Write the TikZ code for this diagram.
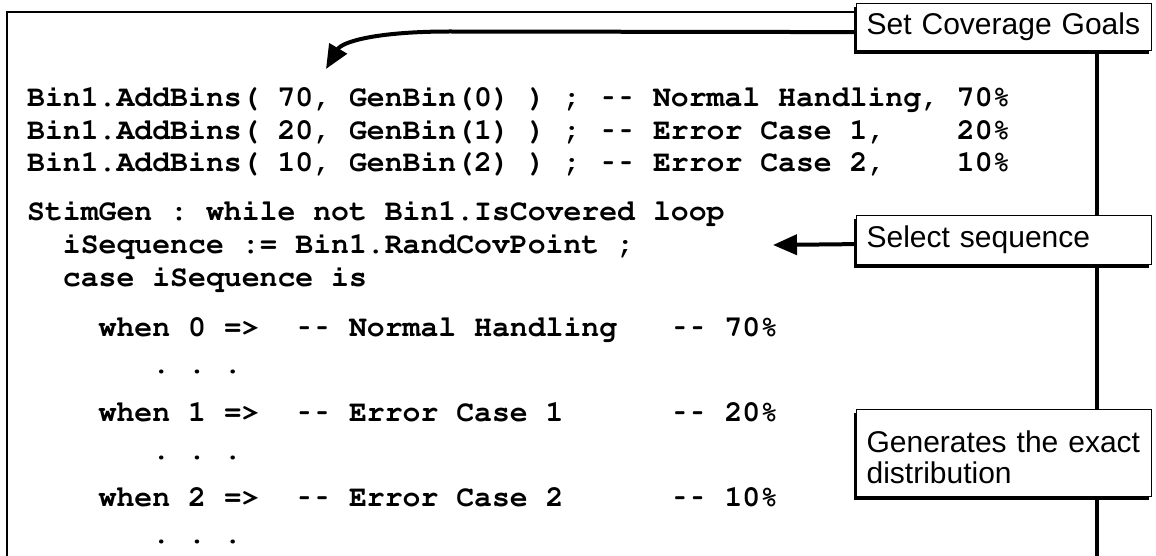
\documentclass[tikz,border=0pt]{standalone}
\usepackage[T1]{fontenc}
\usepackage{fontspec}
\usepackage{graphicx}
\setmainfont{Liberation Sans}
\usetikzlibrary{arrows.meta,shadows,backgrounds}
\newcommand\courierbold{\fontencoding{T1}\fontfamily{pcr}\fontseries{b}\fontshape{n}\fontsize{29.8}{32}\selectfont}
\newcommand\hy{\makebox[0.6em][c]{\scalebox{0.62}[1]{-}}}
\begin{document}
\begin{tikzpicture}[x=1pt,y=-1pt,
  code/.style={anchor=base west,inner sep=0pt,font=\courierbold},
  callout/.style={draw=black,line width=1.2pt,fill=white,anchor=north west,inner xsep=10pt,inner ysep=0pt,
    text width=275pt,align=left,font=\fontsize{30}{31}\selectfont,
    drop shadow={shadow xshift=-3pt,shadow yshift=-3pt,fill=black,opacity=1}},
  bigarrow/.style={line width=4pt,-{Triangle[length=24pt,width=20pt]}},
  frame/.style={line width=2pt},
  spine/.style={line width=4.5pt}
]
\useasboundingbox (0,0) rectangle (1156,556);

% code lines
\node[code] (l1) at (27,107) {Bin1.AddBins(~70,~GenBin(0)~)~;~\hy\hy~Normal~Handling,~70\%};
\node[code] (l2) at (27,140) {Bin1.AddBins(~20,~GenBin(1)~)~;~\hy\hy~Error~Case~1,~~~~20\%};
\node[code] (l3) at (27,172) {Bin1.AddBins(~10,~GenBin(2)~)~;~\hy\hy~Error~Case~2,~~~~10\%};
\node[code] (l4) at (27,221) {StimGen~:~while~not~Bin1.IsCovered~loop};
\node[code] (l5) at (27,253) {~~iSequence~:=~Bin1.RandCovPoint~;};
\node[code] (l6) at (27,286) {~~case~iSequence~is};
\node[code] (l7) at (27,336) {~~~~when~0~=>~~\hy\hy~Normal~Handling~~~\hy\hy~70\%};
\node[code] (l8) at (27,373) {~~~~~~~.~.~.};
\node[code] (l9) at (27,421) {~~~~when~1~=>~~\hy\hy~Error~Case~1~~~~~~\hy\hy~20\%};
\node[code] (l10) at (27,459) {~~~~~~~.~.~.};
\node[code] (l11) at (27,506) {~~~~when~2~=>~~\hy\hy~Error~Case~2~~~~~~\hy\hy~10\%};
\node[code] (l12) at (27,543) {~~~~~~~.~.~.};

% callouts
\node[callout,minimum height=47pt] (goals) at (856,3) {Set Coverage Goals};
\node[callout,minimum height=49pt] (select) at (856,215) {Select sequence};
\node[callout,minimum height=87pt] (gen) at (856,409) {\rule{0pt}{29.5pt}Generates the exact\\distribution};

\coordinate (tip1) at (326,69);
\coordinate (tip2) at (773,245);
\coordinate (vbot) at (1097,560);

\begin{pgfonlayer}{background}
  \draw[frame] (7,560) -- (7,12) -- (1097,12);
  \draw[spine] (goals.south -| vbot) -- (vbot);
\end{pgfonlayer}

\draw[bigarrow] ([yshift=-5pt]goals.west) -- (450,31.5) .. controls (375,31.5) and (342,42) .. (tip1);
\draw[bigarrow] ([yshift=-4pt]select.west) -- (tip2);
\end{tikzpicture}
\end{document}
